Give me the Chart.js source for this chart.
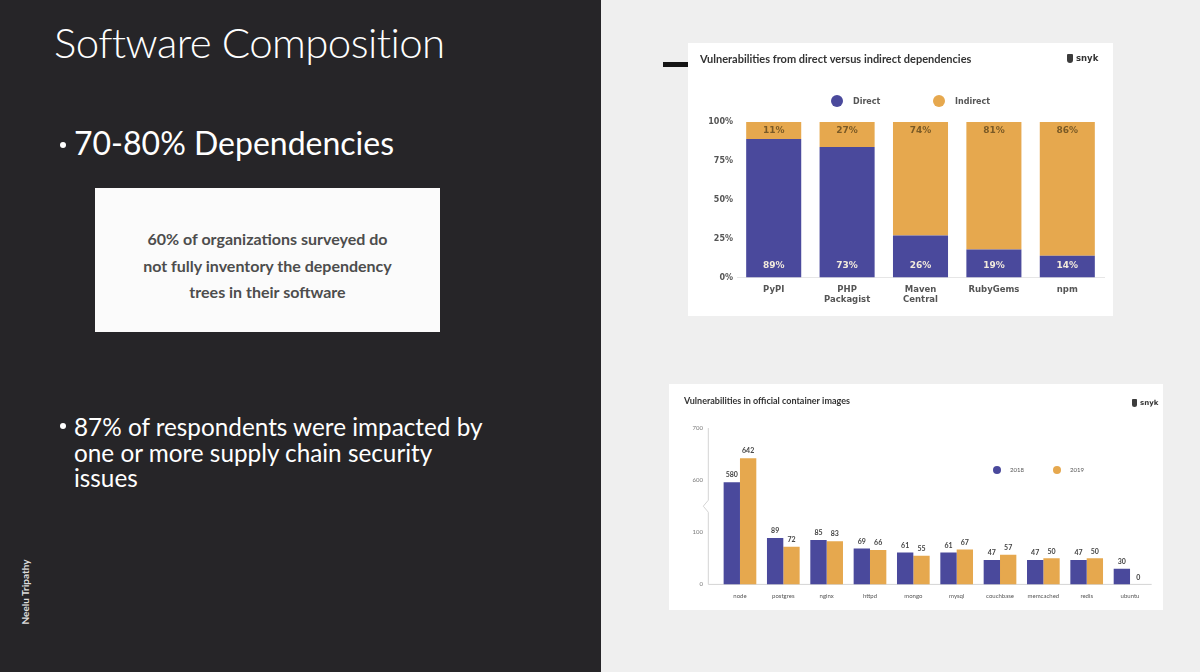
<!DOCTYPE html>
<html>
<head>
<meta charset="utf-8">
<script src="https://cdn.jsdelivr.net/npm/chart.js@4.4.1/dist/chart.umd.min.js"></script>
<style>
  body { margin: 0; width: 1200px; height: 672px; overflow: hidden; background: #efefef; font-family: Lato, "Open Sans", sans-serif; }
  #left { position: absolute; left: 0; top: 0; width: 601px; height: 672px; background: #262528; color: #fff; }
  .title { position: absolute; left: 54px; top: 21px; font-size: 42px; line-height: 42px; font-weight: 300; letter-spacing: -0.6px; white-space: nowrap; }
  .bullet { position: absolute; left: 74px; white-space: nowrap; }
  .b1 { top: 127px; font-size: 32px; line-height: 32px; }
  .b2 { top: 414px; font-size: 24.3px; line-height: 25.5px; }
  .dot { position: absolute; width: 6px; height: 6px; border-radius: 50%; background: #fff; }
  .quote { position: absolute; left: 95px; top: 188px; width: 345px; height: 144px; background: #fbfbfb;
           box-sizing: border-box; padding-top: 38px; text-align: center; color: #4d4d4d;
           font-weight: 700; font-size: 16px; line-height: 26.5px; }
  .author { position: absolute; left: 25px; top: 592px; transform: translate(-50%, -50%) rotate(-90deg);
            font-size: 10px; font-weight: 700; color: #dcdcdc; white-space: nowrap; }
  .card { position: absolute; background: #fff; }
  .dash { position: absolute; left: 663px; top: 62px; width: 26px; height: 5px; background: #151515; }
  .snyk { position: absolute; font-family: "DejaVu Sans", sans-serif; font-weight: bold; color: #333; white-space: nowrap; }
  .snyk i { display: inline-block; background: #3c3c3c; border-radius: 1px 1px 3px 3px; margin-right: 3px; vertical-align: middle; }
  canvas { position: absolute; }
</style>
</head>
<body>
<div id="left">
  <div class="title">Software Composition</div>
  <div class="dot" style="left:60px; top:142px"></div>
  <div class="bullet b1">70-80% Dependencies</div>
  <div class="quote">60% of organizations surveyed do<br>not fully inventory the dependency<br>trees in their software</div>
  <div class="dot" style="left:60px; top:423px"></div>
  <div class="bullet b2">87% of respondents were impacted by<br>one or more supply chain security<br>issues</div>
  <div class="author">Neelu Tripathy</div>
</div>

<div class="dash"></div>
<div class="card" style="left:688px; top:43px; width:425px; height:273px"></div>
<div class="card" style="left:669px; top:384px; width:494px; height:226px"></div>
<canvas id="depChart" width="425" height="273" style="left:688px; top:43px"></canvas>
<canvas id="imgChart" width="494" height="226" style="left:669px; top:384px"></canvas>
<div class="snyk" style="left:1067px; top:53px; font-size:8.5px"><i style="width:6px; height:9px"></i>snyk</div>
<div class="snyk" style="left:1132px; top:399px; font-size:7px"><i style="width:5px; height:8px"></i>snyk</div>

<script>
// direct vs indirect dependencies (stack heights as drawn, printed labels as written)
const depCategories = [["PyPI"], ["PHP", "Packagist"], ["Maven", "Central"], ["RubyGems"], ["npm"]];
const directShare = [89, 84, 27, 18, 14];
const indirectShare = [11, 16, 73, 82, 86];
const directLabels = ["89%", "73%", "26%", "19%", "14%"];
const indirectLabels = ["11%", "27%", "74%", "81%", "86%"];
const shareTicks = [0, 25, 50, 75, 100];

// vulnerabilities in official container images
const images = ["node", "postgres", "nginx", "httpd", "mongo", "mysql", "couchbase", "memcached", "redis", "ubuntu"];
const vulns2018 = [580, 89, 85, 69, 61, 61, 47, 47, 47, 30];
const vulns2019 = [642, 72, 83, 66, 55, 67, 57, 50, 50, 0];
const countTicks = [0, 100, 600, 700];

const PURPLE = "#4a499c";
const ORANGE = "#e6a84e";

// y scale with a break: 100..600 squeezed into the same room as 100 units
class BrokenLinearScale extends Chart.LinearScale {
    static id = "brokenLinear";
    squash(v) {
        if (v <= 100) return v;
        if (v <= 600) return 100 + (v - 100) / 5;
        return 200 + (v - 600);
    }
    getPixelForValue(value) {
        if (value === null || isNaN(value)) return NaN;
        return this.getPixelForDecimal(this.squash(value) / this.squash(this.max));
    }
    getValueForPixel(pixel) {
        const s = this.getDecimalForPixel(pixel) * this.squash(this.max);
        if (s <= 100) return s;
        if (s <= 200) return 100 + (s - 100) * 5;
        return 600 + (s - 200);
    }
}
Chart.register(BrokenLinearScale);

// text on / above the bars
function barLabels(cfg) {
    return {
        id: "barLabels",
        afterDatasetsDraw(chart) {
            const ctx = chart.ctx;
            ctx.save();
            ctx.font = cfg.font;
            ctx.textAlign = "center";
            ctx.textBaseline = "middle";
            chart.data.datasets.forEach((ds, di) => {
                const texts = cfg.texts ? cfg.texts[di] : ds.data;
                chart.getDatasetMeta(di).data.forEach((bar, i) => {
                    const from = cfg.place[di] === "base" ? bar.base : bar.y;
                    ctx.fillStyle = cfg.colors[di];
                    ctx.fillText(texts[i], bar.x, from + cfg.offsets[di]);
                });
            });
            ctx.restore();
        }
    };
}

// round dot legend at given spots
function dotLegend(cfg) {
    return {
        id: "dotLegend",
        afterDraw(chart) {
            const ctx = chart.ctx;
            ctx.save();
            ctx.font = cfg.font;
            ctx.textBaseline = "middle";
            chart.data.datasets.forEach((ds, di) => {
                const x = cfg.xs[di];
                ctx.fillStyle = ds.backgroundColor;
                ctx.beginPath();
                ctx.arc(x, cfg.y, cfg.radius, 0, Math.PI * 2);
                ctx.fill();
                ctx.fillStyle = cfg.color;
                ctx.fillText(ds.label, x + cfg.gap, cfg.y + 0.5);
            });
            ctx.restore();
        }
    };
}

const axisBreak = {
    id: "axisBreak",
    beforeDatasetsDraw(chart) {
        const { ctx, chartArea } = chart;
        const y = chart.scales.y;
        const ax = chartArea.left - 10;
        const mid = (y.getPixelForValue(100) + y.getPixelForValue(600)) / 2;
        ctx.save();
        ctx.strokeStyle = "#d4d4d4";
        ctx.lineWidth = 1;
        ctx.beginPath();
        ctx.moveTo(ax, chartArea.top);
        ctx.lineTo(ax, mid - 6);
        ctx.lineTo(ax - 5, mid);
        ctx.lineTo(ax, mid + 6);
        ctx.lineTo(ax, chartArea.bottom);
        ctx.lineTo(chartArea.right, chartArea.bottom);
        ctx.stroke();
        ctx.restore();
    }
};

const chartFont = "'DejaVu Sans', sans-serif";

new Chart(document.getElementById("depChart"), {
    type: "bar",
    data: {
        labels: depCategories,
        datasets: [
            { label: "Direct", data: directShare, backgroundColor: PURPLE },
            { label: "Indirect", data: indirectShare, backgroundColor: ORANGE }
        ]
    },
    options: {
        responsive: false,
        animation: false,
        layout: { padding: { left: 12, right: 9, top: 0, bottom: 4 } },
        datasets: { bar: { barPercentage: 0.75, categoryPercentage: 1 } },
        scales: {
            x: {
                stacked: true,
                grid: { display: false, drawTicks: false },
                border: { color: "#e6e6e6" },
                ticks: { padding: 7, maxRotation: 0, autoSkip: false, color: "#555",
                         font: { family: chartFont, size: 8.5, weight: "bold" } }
            },
            y: {
                stacked: true, min: 0, max: 100,
                grid: { display: false, drawTicks: false },
                border: { display: false },
                afterBuildTicks: s => { s.ticks = shareTicks.map(v => ({ value: v })); },
                afterFit: s => { s.width = 37; },
                ticks: { padding: 4, color: "#555", callback: v => v + "%",
                         font: { family: chartFont, size: 8, weight: "bold" } }
            }
        },
        plugins: {
            legend: { display: false },
            tooltip: { enabled: false },
            title: {
                display: true, align: "start", color: "#333",
                text: "Vulnerabilities from direct versus indirect dependencies",
                font: { family: "Lato, sans-serif", size: 11, weight: "bold" },
                padding: { top: 9.4, bottom: 56.4 }
            }
        }
    },
    plugins: [
        dotLegend({ xs: [149, 251], y: 58, radius: 6, gap: 16, color: "#555", font: "bold 8px 'DejaVu Sans'" }),
        barLabels({ texts: [directLabels, indirectLabels], place: ["base", "top"], offsets: [-12, 9],
                    colors: ["#f3ebdc", "#7a5a26"], font: "bold 9px 'DejaVu Sans'" })
    ]
});

new Chart(document.getElementById("imgChart"), {
    type: "bar",
    data: {
        labels: images,
        datasets: [
            { label: "2018", data: vulns2018, backgroundColor: PURPLE },
            { label: "2019", data: vulns2019, backgroundColor: ORANGE }
        ]
    },
    options: {
        responsive: false,
        animation: false,
        layout: { padding: { left: 15, right: 11.3, top: 0, bottom: 2.4 } },
        datasets: { bar: { barPercentage: 1, categoryPercentage: 0.754 } },
        scales: {
            x: {
                grid: { display: false, drawTicks: false },
                border: { display: false },
                ticks: { padding: 8, maxRotation: 0, autoSkip: false, color: "#555",
                         font: { family: "Lato, sans-serif", size: 6 } }
            },
            y: {
                type: "brokenLinear", min: 0, max: 700,
                grid: { display: false, drawTicks: false },
                border: { display: false },
                afterBuildTicks: s => { s.ticks = countTicks.map(v => ({ value: v })); },
                afterFit: s => { s.width = 34.3; },
                ticks: { padding: 15.3, color: "#777", font: { family: "Lato, sans-serif", size: 6 } }
            }
        },
        plugins: {
            legend: { display: false },
            tooltip: { enabled: false },
            title: {
                display: true, align: "start", color: "#333",
                text: "Vulnerabilities in official container images",
                font: { family: "Lato, sans-serif", size: 9, weight: "bold" },
                padding: { top: 11.6, bottom: 21.6 }
            }
        }
    },
    plugins: [
        axisBreak,
        dotLegend({ xs: [328, 388], y: 86, radius: 4, gap: 13, color: "#555", font: "6px Lato" }),
        barLabels({ place: ["top", "top"], offsets: [-7, -7], colors: ["#444", "#444"], font: "bold 7px Lato" })
    ]
});
</script>
</body>
</html>
